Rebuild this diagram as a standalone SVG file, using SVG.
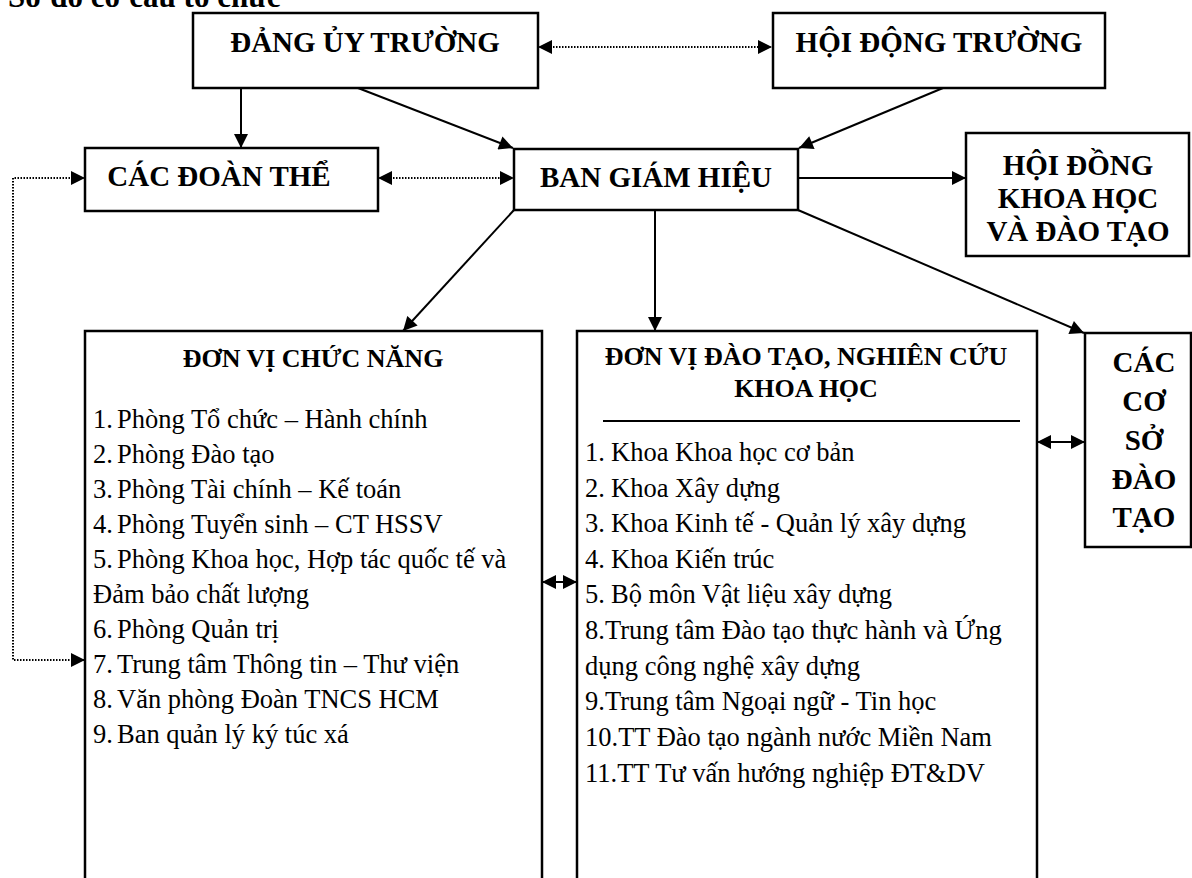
<svg xmlns="http://www.w3.org/2000/svg" width="1192" height="878" viewBox="0 0 1192 878">
<style>
.box{fill:#fff;stroke:#000;stroke-width:2.5}
.ln{fill:none;stroke:#000;stroke-width:2}
.dot{fill:none;stroke:#000;stroke-width:2;stroke-dasharray:1.5 1.5}
.t{font-family:"Liberation Serif","Times New Roman",serif;fill:#000}
.b{font-weight:bold}
.h1{font-size:29px;text-anchor:middle}
.h2{font-size:26px;text-anchor:middle}
.it{font-size:26.5px}
</style>
<defs>
<marker id="arr" viewBox="0 0 10 10" refX="10" refY="5" markerUnits="userSpaceOnUse" markerWidth="15" markerHeight="14" orient="auto-start-reverse">
<path d="M0,0 L10,5 L0,10 z" fill="#000"/>
</marker>
</defs>
<rect width="1192" height="878" fill="#fff"/>
<text class="t b" x="8" y="7" font-size="31">Sơ đồ cơ cấu tổ chức</text>

<g id="connectors">
<line class="dot" x1="538" y1="47" x2="772" y2="47" marker-start="url(#arr)" marker-end="url(#arr)"/>
<line class="ln" x1="241" y1="88" x2="241" y2="148" marker-end="url(#arr)"/>
<line class="ln" x1="358" y1="88" x2="513" y2="148" marker-end="url(#arr)"/>
<line class="ln" x1="943" y1="88" x2="799" y2="148" marker-end="url(#arr)"/>
<line class="dot" x1="378" y1="178" x2="514" y2="178" marker-start="url(#arr)" marker-end="url(#arr)"/>
<line class="ln" x1="798" y1="178" x2="966" y2="178" marker-end="url(#arr)"/>
<line class="ln" x1="514" y1="210" x2="403" y2="331" marker-end="url(#arr)"/>
<line class="ln" x1="655" y1="210" x2="655" y2="331" marker-end="url(#arr)"/>
<line class="ln" x1="798" y1="210" x2="1084" y2="333" marker-end="url(#arr)"/>
<path class="dot" d="M85,178 L13,178 L13,660 L85,660" marker-start="url(#arr)" marker-end="url(#arr)"/>
<line class="ln" x1="542" y1="582" x2="577" y2="582" marker-start="url(#arr)" marker-end="url(#arr)"/>
<line class="ln" x1="1037" y1="442" x2="1085" y2="442" marker-start="url(#arr)" marker-end="url(#arr)"/>
</g>

<g id="dang-uy">
<rect class="box" x="193" y="13" width="345" height="75"/>
<text class="t b h1" x="365" y="52">ĐẢNG ỦY TRƯỜNG</text>
</g>
<g id="hoi-dong-truong">
<rect class="box" x="773" y="13" width="332" height="75"/>
<text class="t b h1" x="939" y="52">HỘI ĐỘNG TRƯỜNG</text>
</g>
<g id="doan-the">
<rect class="box" x="85" y="148" width="293" height="63"/>
<text class="t b h1" x="219" y="186">CÁC ĐOÀN THỂ</text>
</g>
<g id="ban-giam-hieu">
<rect class="box" x="514" y="149" width="284" height="61"/>
<text class="t b h1" x="656" y="187">BAN GIÁM HIỆU</text>
</g>
<g id="hoi-dong-khoa-hoc">
<rect class="box" x="966" y="133" width="223" height="123"/>
<text class="t b h1" x="1078" y="175">HỘI ĐỒNG</text>
<text class="t b h1" x="1078" y="208">KHOA HỌC</text>
<text class="t b h1" x="1078" y="241">VÀ ĐÀO TẠO</text>
</g>
<g id="co-so-dao-tao">
<rect class="box" x="1085" y="333" width="106" height="214"/>
<text class="t b h1" x="1144" y="372" font-size="27">CÁC</text>
<text class="t b h1" x="1144" y="411" font-size="27">CƠ</text>
<text class="t b h1" x="1144" y="450" font-size="27">SỞ</text>
<text class="t b h1" x="1144" y="489" font-size="27">ĐÀO</text>
<text class="t b h1" x="1144" y="527" font-size="27">TẠO</text>
</g>

<g id="don-vi-chuc-nang">
<rect class="box" x="85" y="331" width="457" height="600"/>
<text class="t b h2" x="313" y="367">ĐƠN VỊ CHỨC NĂNG</text>
<text class="t it" y="428"><tspan x="93">1.</tspan><tspan x="117">Phòng Tổ chức – Hành chính</tspan></text>
<text class="t it" y="463"><tspan x="93">2.</tspan><tspan x="117">Phòng Đào tạo</tspan></text>
<text class="t it" y="498"><tspan x="93">3.</tspan><tspan x="117">Phòng Tài chính – Kế toán</tspan></text>
<text class="t it" y="533"><tspan x="93">4.</tspan><tspan x="117">Phòng Tuyển sinh – CT HSSV</tspan></text>
<text class="t it" y="568"><tspan x="93">5.</tspan><tspan x="117">Phòng Khoa học, Hợp tác quốc tế và</tspan></text>
<text class="t it" x="93" y="603">Đảm bảo chất lượng</text>
<text class="t it" y="638"><tspan x="93">6.</tspan><tspan x="117">Phòng Quản trị</tspan></text>
<text class="t it" y="673"><tspan x="93">7.</tspan><tspan x="117">Trung tâm Thông tin – Thư viện</tspan></text>
<text class="t it" y="708"><tspan x="93">8.</tspan><tspan x="117">Văn phòng Đoàn TNCS HCM</tspan></text>
<text class="t it" y="743"><tspan x="93">9.</tspan><tspan x="117">Ban quản lý ký túc xá</tspan></text>
</g>

<g id="don-vi-dao-tao">
<rect class="box" x="577" y="331" width="460" height="600"/>
<text class="t b h2" x="806" y="365">ĐƠN VỊ ĐÀO TẠO, NGHIÊN CỨU</text>
<text class="t b h2" x="806" y="397">KHOA HỌC</text>
<line class="ln" x1="603" y1="421" x2="1020" y2="421"/>
<text class="t it" y="461"><tspan x="585">1.</tspan><tspan x="611">Khoa Khoa học cơ bản</tspan></text>
<text class="t it" y="497"><tspan x="585">2.</tspan><tspan x="611">Khoa Xây dựng</tspan></text>
<text class="t it" y="532"><tspan x="585">3.</tspan><tspan x="611">Khoa Kinh tế - Quản lý xây dựng</tspan></text>
<text class="t it" y="568"><tspan x="585">4.</tspan><tspan x="611">Khoa Kiến trúc</tspan></text>
<text class="t it" y="603"><tspan x="585">5.</tspan><tspan x="611">Bộ môn Vật liệu xây dựng</tspan></text>
<text class="t it" x="585" y="639">8.Trung tâm Đào tạo thực hành và Ứng</text>
<text class="t it" x="585" y="675">dụng công nghệ xây dựng</text>
<text class="t it" x="585" y="710">9.Trung tâm Ngoại ngữ - Tin học</text>
<text class="t it" x="585" y="746">10.TT Đào tạo ngành nước Miền Nam</text>
<text class="t it" x="585" y="782">11.TT Tư vấn hướng nghiệp ĐT&amp;DV</text>
</g>
</svg>
